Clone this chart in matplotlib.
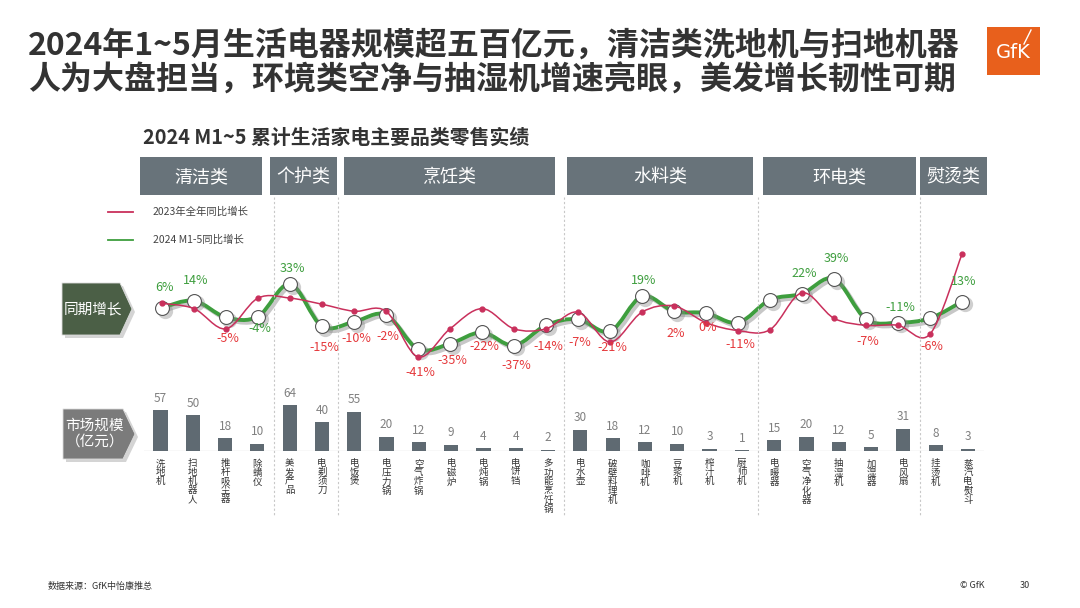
import matplotlib
matplotlib.use("Agg")
import matplotlib.pyplot as plt
import matplotlib.patheffects as pe
from matplotlib.path import Path
from matplotlib.patches import PathPatch, Rectangle, Polygon
from matplotlib.transforms import blended_transform_factory, offset_copy
import numpy as np

plt.rcParams['font.family'] = ['Noto Sans CJK SC', 'DejaVu Sans']

# ---- data ----
groups = ["清洁类", "个护类", "烹饪类", "水料类", "环电类", "熨烫类"]
group_sizes = [4, 2, 7, 6, 5, 2]
categories = ["洗地机", "扫地机器人", "推杆吸尘器", "除螨仪",
              "美发产品", "电剃须刀",
              "电饭煲", "电压力锅", "空气炸锅", "电磁炉", "电炖锅", "电饼铛", "多功能烹饪锅",
              "电水壶", "破壁料理机", "咖啡机", "豆浆机", "榨汁机", "厨师机",
              "电暖器", "空气净化器", "抽湿机", "加湿器", "电风扇",
              "挂烫机", "蒸汽电熨斗"]
market_size = [57, 50, 18, 10, 64, 40, 55, 20, 12, 9, 4, 4, 2,
               30, 18, 12, 10, 3, 1, 15, 20, 12, 5, 31, 8, 3]
growth_2024 = [6, 14, -5, -4, 33, -15, -10, -2, -41, -35, -22, -37, -14,
               -7, -21, 19, 2, 0, -11, 15, 22, 39, -7, -11, -6, 13]
growth_2023 = [11, 5, -18, 17, 17, 10, 2, 2, -50, -18, 5, -18, -18,
               1, -33, 1, 8, -11, -20, -19, 23, -6, -14, -14, -24, 67]

# label colour per point ('' = no label) and vertical offset in px (+ = below)
label_color = ['g', 'g', 'r', 'g', 'g', 'r', 'r', 'r', 'r', 'r', 'r', 'r', 'r',
               'r', 'r', 'g', 'r', 'r', 'r', '', 'g', 'g', 'r', 'g', 'r', 'g']
label_dy = [-20, -20, 21, 12, -16, 21, 17, 22, 23, 17, 14, 20, 21,
            23, 16, -16, 22, 14, 22, 0, -20, -20, 22, -15, 28, -20]

W, H = 1080, 608
GREEN = "#3e9e3e"
RED = "#c9305c"
LABEL_RED = "#e5383b"
SLATE = "#5f6a72"
HEAD = "#68737a"
TXT = "#333333"


def fx(px):
    return px / W


def fy(py):
    return 1 - py / H


def smooth_path(x, y):
    pts = np.column_stack([x, y]).astype(float)
    n = len(pts)
    verts = [pts[0]]
    codes = [Path.MOVETO]
    for i in range(n - 1):
        p0 = pts[i - 1] if i > 0 else pts[i]
        p1 = pts[i]
        p2 = pts[i + 1]
        p3 = pts[i + 2] if i + 2 < n else pts[i + 1]
        verts += [p1 + (p2 - p0) / 6, p2 - (p3 - p1) / 6, p2]
        codes += [Path.CURVE4] * 3
    return Path(verts, codes)


fig = plt.figure(figsize=(W / 100, H / 100), dpi=100)
fig.patch.set_facecolor("white")

# ---- title ----
fig.text(fx(28), fy(46), "2024年1~5月生活电器规模超五百亿元，清洁类洗地机与扫地机器",
         fontsize=23, fontweight="bold", color=TXT, va="center", ha="left")
fig.text(fx(28), fy(81), "人为大盘担当，环境类空净与抽湿机增速亮眼，美发增长韧性可期",
         fontsize=23, fontweight="bold", color=TXT, va="center", ha="left")

# GfK logo
fig.patches.append(Rectangle((fx(987), fy(75)), fx(53), 48 / H, transform=fig.transFigure,
                             facecolor="#e8601c", edgecolor="none"))
fig.text(fx(1013), fy(52), "GfK", fontsize=14, color="white", ha="center", va="center",
         family=["DejaVu Sans"])
fig.lines.append(plt.Line2D([fx(1024), fx(1031)], [fy(44), fy(30)], transform=fig.transFigure,
                            color="white", lw=1))

fig.text(fx(143), fy(137), "2024 M1~5 累计生活家电主要品类零售实绩",
         fontsize=14.3, fontweight="bold", color=TXT, va="center", ha="left")

# ---- header boxes ----
box_px = [(140, 262), (270, 337), (344, 555), (567, 753), (763, 916), (920, 987)]
for (l, r), g in zip(box_px, groups):
    fig.patches.append(Rectangle((fx(l), fy(195)), fx(r - l), 38 / H, transform=fig.transFigure,
                                 facecolor=HEAD, edgecolor="none"))
    fig.text(fx((l + r) / 2), fy(177), g, fontsize=13, color="white", ha="center", va="center")

# ---- legend ----
fig.lines.append(plt.Line2D([fx(108), fx(133)], [fy(212), fy(212)], transform=fig.transFigure,
                            color=RED, lw=1.3))
fig.text(fx(153), fy(212), "2023年全年同比增长", fontsize=7.5, color="#444", va="center")
fig.lines.append(plt.Line2D([fx(108), fx(133)], [fy(240), fy(240)], transform=fig.transFigure,
                            color=GREEN, lw=1.3))
fig.text(fx(153), fy(240), "2024 M1-5同比增长", fontsize=7.5, color="#444", va="center")


# ---- tags ----
def tag(x0, y0, x1, y1, tip, color, lines, fs):
    pts = [(x0, y0), (x1, y0), (tip, (y0 + y1) / 2), (x1, y1), (x0, y1)]
    sh = Polygon([(fx(a + 3), fy(b + 3)) for a, b in pts], closed=True,
                 transform=fig.transFigure, facecolor="#aaa", edgecolor="none", alpha=0.5)
    fig.patches.append(sh)
    poly = Polygon([(fx(a), fy(b)) for a, b in pts], closed=True,
                   transform=fig.transFigure, facecolor=color, edgecolor="#dddddd", lw=0.6)
    fig.patches.append(poly)
    fig.text(fx((x0 + x1) / 2 + 2), fy((y0 + y1) / 2), lines, fontsize=fs, color="white",
             ha="center", va="center", linespacing=1.15)


tag(62, 283, 120, 335, 132, "#4b5f46", "同期增长", 10.5)
tag(63, 409, 123, 459, 135, "#7b7b7b", "市场规模\n（亿元）", 10.5)

x = np.arange(len(categories))

# ---- line chart ----
ax = fig.add_axes([fx(146), fy(365.7), fx(832), (365.7 - 247.15) / H])
ax.set_xlim(-0.5, len(categories) - 0.5)
ax.set_ylim(-60, 75)
ax.axis("off")

gpath = smooth_path(x, growth_2024)
ax.add_patch(PathPatch(gpath, facecolor="none", edgecolor=GREEN, lw=2.8, capstyle="round",
                       path_effects=[pe.SimpleLineShadow(offset=(2, -2), shadow_color="k", alpha=0.22),
                                     pe.Normal()], zorder=2))
sh_tr = offset_copy(ax.transData, fig=fig, x=2, y=-2, units="points")
ax.plot(x, growth_2024, "o", ms=11, mfc="#888", mec="none", alpha=0.4, transform=sh_tr, zorder=3)
ax.plot(x, growth_2024, "o", ms=10, mfc="white", mec="#555", mew=0.8, zorder=4)

rpath = smooth_path(x, growth_2023)
ax.add_patch(PathPatch(rpath, facecolor="none", edgecolor=RED, lw=1.1, zorder=5))
ax.plot(x, growth_2023, "o", ms=3.5, color=RED, zorder=6)

for xi, v, c, dy in zip(x, growth_2024, label_color, label_dy):
    if not c:
        continue
    ax.annotate(f"{v}%", (xi, v), xytext=(1.5, -dy * 0.72), textcoords="offset points",
                ha="center", va="center", fontsize=9,
                color=GREEN if c == 'g' else LABEL_RED, zorder=7)

# ---- bar chart ----
axb = fig.add_axes([fx(144.35), fy(451), fx(839.75), (451 - 393.8) / H])
axb.set_xlim(-0.5, len(categories) - 0.5)
axb.set_ylim(0, 80)
axb.axis("off")
axb.axhline(0, color="#dddddd", lw=1, zorder=1)
axb.bar(x, market_size, width=0.44, color=SLATE, zorder=2)
for xi, v in zip(x, market_size):
    axb.annotate(str(v), (xi, v), xytext=(0, 4), textcoords="offset points",
                 ha="center", va="bottom", fontsize=8.5, color="#808080")
for xi, c in zip(x, categories):
    axb.annotate("\n".join(c), (xi, 0), xytext=(0, -6), textcoords="offset points",
                 ha="center", va="top", fontsize=6.8, color="#333", linespacing=1.0,
                 annotation_clip=False)

# separators
sep_tr = blended_transform_factory(axb.transData, fig.transFigure)
edges = np.cumsum(group_sizes)[:-1] - 0.5
for e in edges:
    axb.plot([e, e], [fy(197), fy(515)], transform=sep_tr, color="#c8c8c8", lw=0.8,
             ls=(0, (2, 2)), clip_on=False, zorder=0)

# ---- footer ----
fig.text(fx(48), fy(586), "数据来源：GfK中怡康推总", fontsize=6.5, color=TXT, va="center")
fig.text(fx(960), fy(586), "© GfK", fontsize=6.5, color=TXT, va="center")
fig.text(fx(1020), fy(586), "30", fontsize=6.5, color=TXT, va="center")

fig.savefig("out.png", dpi=100, facecolor="white")
